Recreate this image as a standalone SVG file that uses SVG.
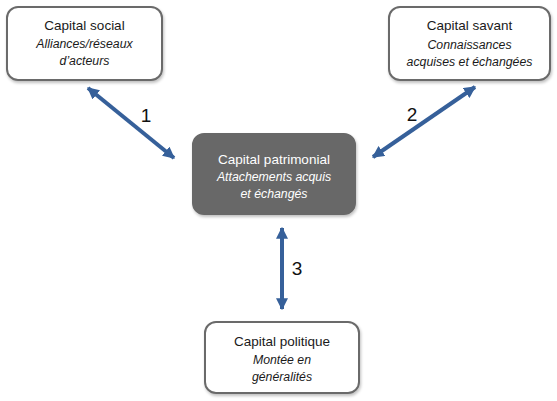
<svg xmlns="http://www.w3.org/2000/svg" width="557" height="401" viewBox="0 0 557 401">
<style>
.box{fill:#ffffff;stroke:#6b6b6b;stroke-width:2}
.dark{fill:#686868;stroke:#686868;stroke-width:2}
.t{font-family:"Liberation Sans",Arial,sans-serif;font-size:13.5px;text-anchor:middle;fill:#1a1a1a}
.s{font-family:"Liberation Sans",Arial,sans-serif;font-size:12.3px;font-style:italic;text-anchor:middle;fill:#1a1a1a}
.w{fill:#ffffff}
.conn{stroke:#36609a;stroke-width:4;fill:none;marker-start:url(#ah);marker-end:url(#ah)}
.num{font-family:"Liberation Sans",Arial,sans-serif;font-size:19px;fill:#111111;text-anchor:middle}
</style>
<defs>
<marker id="ah" viewBox="0 0 10 10" refX="9" refY="5" markerWidth="3" markerHeight="3" orient="auto-start-reverse" markerUnits="strokeWidth">
<path d="M0,0 L10,5 L0,10 z" fill="#36609a"/>
</marker>
<filter id="sh" x="-10%" y="-10%" width="120%" height="130%">
<feGaussianBlur in="SourceAlpha" stdDeviation="1.5"/>
<feOffset dx="1" dy="2" result="o"/>
<feComponentTransfer><feFuncA type="linear" slope="0.25"/></feComponentTransfer>
<feMerge><feMergeNode/><feMergeNode in="SourceGraphic"/></feMerge>
</filter>
</defs>
<rect width="557" height="401" fill="#ffffff"/>
<g id="connectors">
<line class="conn" x1="88" y1="88" x2="174" y2="158"/>
<line class="conn" x1="475" y1="87" x2="373" y2="157"/>
<line class="conn" x1="282" y1="228" x2="282" y2="309"/>
<text class="num" x="146" y="122">1</text>
<text class="num" x="412" y="121">2</text>
<text class="num" x="297" y="275">3</text>
</g>
<g id="capital-social">
<rect class="box" x="7" y="7" width="155" height="73" rx="11" filter="url(#sh)"/>
<text class="t" x="84.5" y="30">Capital social</text>
<text class="s" x="84.5" y="48">Alliances/réseaux</text>
<text class="s" x="84.5" y="65">d’acteurs</text>
</g>
<g id="capital-savant">
<rect class="box" x="389" y="7" width="161" height="73" rx="11" filter="url(#sh)"/>
<text class="t" x="469.5" y="30">Capital savant</text>
<text class="s" x="469.5" y="49">Connaissances</text>
<text class="s" x="469.5" y="66">acquises et échangées</text>
</g>
<g id="capital-patrimonial">
<rect class="dark" x="193" y="134" width="162" height="80" rx="11" filter="url(#sh)"/>
<text class="t w" x="274" y="164">Capital patrimonial</text>
<text class="s w" x="274" y="181">Attachements acquis</text>
<text class="s w" x="274" y="198">et échangés</text>
</g>
<g id="capital-politique">
<rect class="box" x="205" y="322" width="154" height="71" rx="11" filter="url(#sh)"/>
<text class="t" x="282" y="346">Capital politique</text>
<text class="s" x="282" y="364">Montée en</text>
<text class="s" x="282" y="381">généralités</text>
</g>
</svg>
